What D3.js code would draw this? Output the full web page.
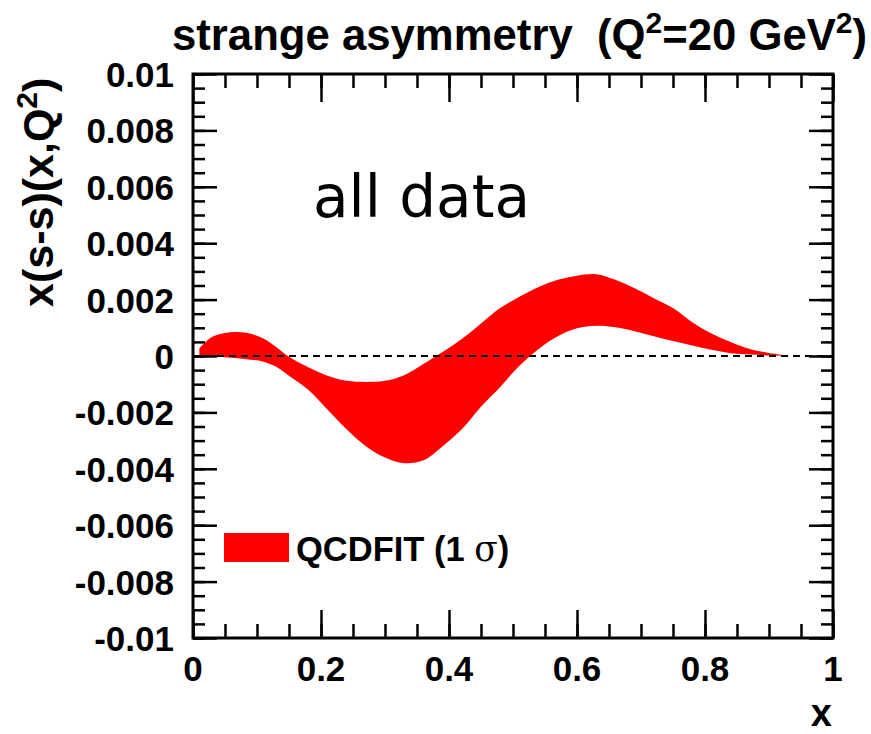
<!DOCTYPE html>
<html><head><meta charset="utf-8">
<script src="https://cdn.jsdelivr.net/npm/d3@7/dist/d3.min.js"></script>
<style>body{margin:0;background:#fff;} svg{display:block;}</style>
</head><body>
<svg id="c" width="871" height="734"></svg>
<script>
const xs    = [0.01,0.03,0.05,0.07,0.09,0.11,0.13,0.15,0.18,0.21,0.24,0.27,0.30,0.33,0.36,0.39,0.42,0.45,0.48,0.51,0.54,0.57,0.60,0.63,0.66,0.69,0.72,0.75,0.78,0.81,0.84,0.87,0.90,0.93];
const upper = [0.00028,0.00068,0.00082,0.00085,0.00079,0.00062,0.00032,-0.00003,-0.0004,-0.0007,-0.00088,-0.00092,-0.00088,-0.00068,-0.00028,0.00014,0.0006,0.00115,0.0017,0.0021,0.00245,0.0027,0.00285,0.0029,0.0027,0.0024,0.00205,0.0017,0.0012,0.0008,0.0005,0.00025,0.00011,0.00002];
const lower = [0.0,-0.00002,-0.00004,-0.00008,-0.00013,-0.0002,-0.00038,-0.0007,-0.0012,-0.0019,-0.0026,-0.0032,-0.0036,-0.0038,-0.0037,-0.0032,-0.0026,-0.0018,-0.0011,-0.00035,0.00025,0.0007,0.00098,0.00107,0.00102,0.00088,0.0007,0.00053,0.00037,0.00022,0.0001,0.00005,0.00002,0.0];
const xMajor = [0,0.2,0.4,0.6,0.8,1];
const xMajorLabels = ["0","0.2","0.4","0.6","0.8","1"];
const yMajor = [0.01,0.008,0.006,0.004,0.002,0,-0.002,-0.004,-0.006,-0.008,-0.01];
const yMajorLabels = ["0.01","0.008","0.006","0.004","0.002","0","-0.002","-0.004","-0.006","-0.008","-0.01"];
const xMinor = d3.range(0,21).map(i=>i*0.05);
const yMinor = d3.range(0,41).map(i=>-0.01+i*0.0005);

const svg = d3.select("#c");
const L=193, R=833, T=74, B=638;
const x = d3.scaleLinear().domain([0,1]).range([L,R]);
const y = d3.scaleLinear().domain([-0.01,0.01]).range([B,T]);
const font = "'Liberation Sans', Arial, Helvetica, sans-serif";

// band
const band = xs.map((v,i)=>({x:v,u:upper[i],l:lower[i]}));
svg.append("path").datum(band)
  .attr("d", d3.area().x(d=>x(d.x)).y0(d=>y(d.l)).y1(d=>y(d.u)).curve(d3.curveCatmullRom))
  .attr("fill","#ff0000");

// zero dashed line
svg.append("line").attr("x1",x(0)).attr("x2",x(1)).attr("y1",y(0)).attr("y2",y(0))
  .attr("stroke","#000").attr("stroke-width",2).attr("stroke-dasharray","7,5");

// axes (ticks inward)
function ax(gen, scale, vals, size, tr){
  const g = svg.append("g").attr("transform",tr)
    .call(gen(scale).tickValues(vals).tickSize(size).tickSizeOuter(0).tickFormat(""));
  g.select(".domain").remove();
  g.selectAll("line").attr("stroke","#000").attr("stroke-width",2.5);
  return g;
}
ax(d3.axisBottom, x, xMinor, -14, `translate(0,${B})`);
ax(d3.axisBottom, x, xMajor, -28, `translate(0,${B})`);
ax(d3.axisTop, x, xMinor, -14, `translate(0,${T})`);
ax(d3.axisTop, x, xMajor, -28, `translate(0,${T})`);
ax(d3.axisLeft, y, yMinor, -12, `translate(${L},0)`);
ax(d3.axisLeft, y, yMajor, -24, `translate(${L},0)`);
ax(d3.axisRight, y, yMinor, -12, `translate(${R},0)`);
ax(d3.axisRight, y, yMajor, -24, `translate(${R},0)`);

// frame
svg.append("rect").attr("x",L).attr("y",T).attr("width",R-L).attr("height",B-T)
  .attr("fill","none").attr("stroke","#000").attr("stroke-width",3);

// tick labels
svg.append("g").selectAll("text").data(xMajor).join("text")
  .attr("x",d=>x(d)).attr("y",681).attr("text-anchor","middle")
  .attr("font-family",font).attr("font-weight","bold").attr("font-size",35)
  .text((d,i)=>xMajorLabels[i]);
svg.append("g").selectAll("text").data(yMajor).join("text")
  .attr("x",174).attr("y",d=>y(d)+13).attr("text-anchor","end")
  .attr("font-family",font).attr("font-weight","bold").attr("font-size",35)
  .text((d,i)=>yMajorLabels[i]);

// axis titles
svg.append("text").attr("x",832).attr("y",726).attr("text-anchor","end")
  .attr("font-family",font).attr("font-weight","bold").attr("font-size",38).text("x");

const yl = svg.append("text").attr("transform","translate(53,307) rotate(-90)")
  .attr("font-family",font).attr("font-weight","bold").attr("font-size",43);
yl.append("tspan").text("x(s-s)(x,Q");
yl.append("tspan").attr("dy",-16).attr("font-size",30).text("2");
yl.append("tspan").attr("dy",16).text(")");

// title
const tt = svg.append("text").attr("x",172).attr("y",50).attr("xml:space","preserve")
  .attr("font-family",font).attr("font-weight","bold").attr("font-size",43.7);
tt.append("tspan").text("strange asymmetry  (Q");
tt.append("tspan").attr("dy",-17).attr("font-size",30).text("2");
tt.append("tspan").attr("dy",17).text("=20 GeV");
tt.append("tspan").attr("dy",-17).attr("font-size",30).text("2");
tt.append("tspan").attr("dy",17).text(")");

// all data
svg.append("text").attr("x",313).attr("y",217).attr("font-family","'DejaVu Sans', sans-serif")
  .attr("font-size",58).attr("textLength",217).attr("lengthAdjust","spacingAndGlyphs").text("all data");

// legend
svg.append("rect").attr("x",224).attr("y",533).attr("width",65).attr("height",29).attr("fill","#ff0000");
const lt = svg.append("text").attr("x",296).attr("y",561)
  .attr("font-family",font).attr("font-weight","bold").attr("font-size",34.5);
lt.append("tspan").text("QCDFIT (1 ");
lt.append("tspan").attr("font-weight","normal").attr("font-family","'DejaVu Serif', serif").text("σ");
lt.append("tspan").text(")");
</script>
</body></html>
